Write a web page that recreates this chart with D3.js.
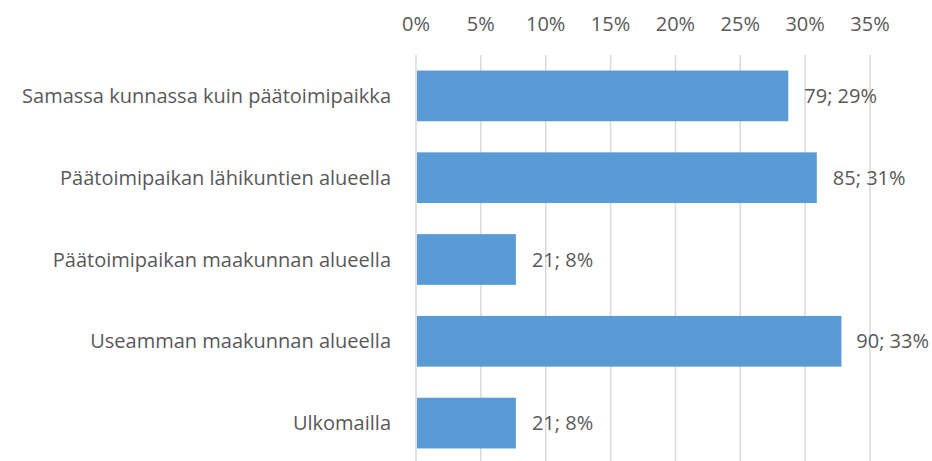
<!DOCTYPE html>
<html>
<head>
<meta charset="utf-8">
<script src="https://cdn.jsdelivr.net/npm/d3@7"></script>
<style>
    body { margin: 0; background: #fff; }
    text { font-family: "Open Sans", sans-serif; fill: #595959; }
</style>
</head>
<body>
<div id="chart"></div>
<script>
const barColor = "#5B9BD5"
const gridColor = "#D9D9D9"

const categories = [
    "Samassa kunnassa kuin päätoimipaikka",
    "Päätoimipaikan lähikuntien alueella",
    "Päätoimipaikan maakunnan alueella",
    "Useamman maakunnan alueella",
    "Ulkomailla"
];
const counts = [79, 85, 21, 90, 21];
const shares = [0.287, 0.309, 0.077, 0.328, 0.077];
const ticks = [0, 0.05, 0.10, 0.15, 0.20, 0.25, 0.30, 0.35];

const data = categories.map((c, i) => ({ name: c, count: counts[i], share: shares[i] }));

const width = 932;
const height = 461;
const margin = { top: 55, right: 62, bottom: -3, left: 416 };

const svg = d3.select("#chart")
    .append("svg")
    .attr("width", width)
    .attr("height", height);

// scales
const x = d3.scaleLinear()
    .domain([0, 0.35])
    .range([margin.left, width - margin.right]);

const y = d3.scaleBand()
    .domain(categories)
    .range([margin.top, height - margin.bottom])
    .paddingInner(0.38)
    .paddingOuter(0.19);

// gridlines
svg.append("g")
    .selectAll("line")
    .data(ticks)
    .enter().append("line")
    .attr("x1", d => x(d))
    .attr("x2", d => x(d))
    .attr("y1", margin.top)
    .attr("y2", height)
    .attr("stroke", gridColor)
    .attr("stroke-width", 1.5);

// top axis labels
svg.append("g")
    .selectAll("text")
    .data(ticks)
    .enter().append("text")
    .attr("x", d => x(d))
    .attr("y", 24)
    .attr("dy", "0.35em")
    .attr("text-anchor", "middle")
    .style("font-size", "20px")
    .text(d => d3.format(".0%")(d));

// bars
svg.append("g")
    .selectAll("rect")
    .data(data)
    .enter().append("rect")
    .attr("x", x(0) + 1)
    .attr("y", d => y(d.name))
    .attr("width", d => x(d.share) - x(0) - 1)
    .attr("height", y.bandwidth())
    .attr("fill", barColor);

// category labels
svg.append("g")
    .selectAll("text")
    .data(data)
    .enter().append("text")
    .attr("x", x(0) - 25)
    .attr("y", d => y(d.name) + y.bandwidth() / 2)
    .attr("dy", "0.35em")
    .attr("text-anchor", "end")
    .style("font-size", "20px")
    .text(d => d.name);

// value labels, kept inside the chart area like Excel does
svg.append("g")
    .selectAll("text")
    .data(data)
    .enter().append("text")
    .attr("y", d => y(d.name) + y.bandwidth() / 2)
    .attr("dy", "0.35em")
    .style("font-size", "20px")
    .text(d => d.count + "; " + Math.round(d.share * 100) + "%")
    .attr("x", function (d) {
        const w = this.getComputedTextLength();
        return Math.min(x(d.share) + 16, width - w - 3);
    });
</script>
</body>
</html>
